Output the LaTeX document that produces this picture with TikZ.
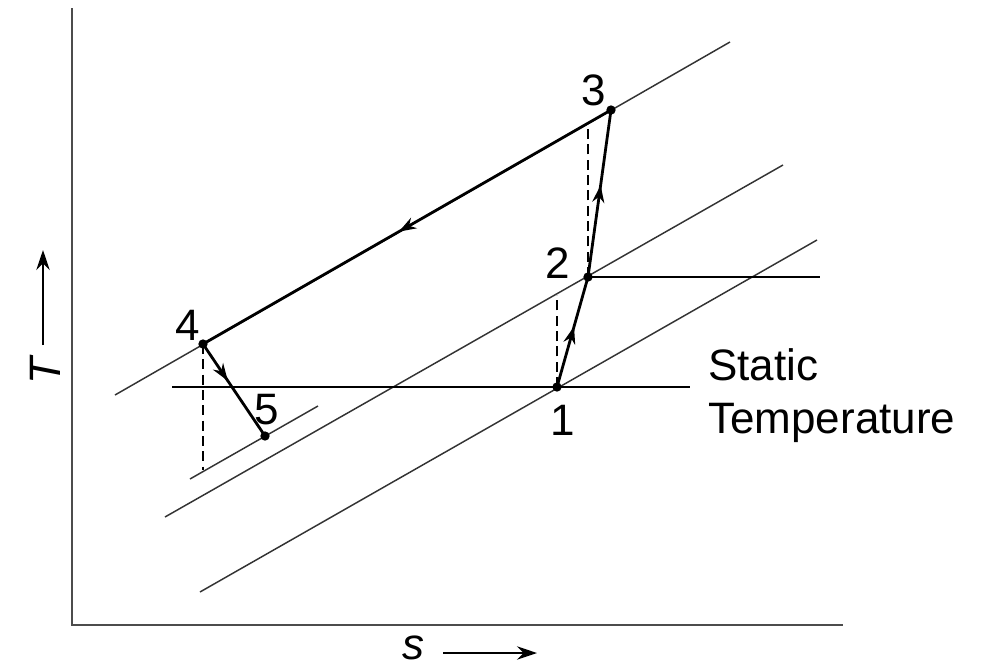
\documentclass[tikz,border=0pt]{standalone}
\usepackage{fontspec}
\setmainfont{Liberation Sans}
\usetikzlibrary{arrows.meta,decorations.markings}
\begin{document}
\begin{tikzpicture}[x=0.75pt,y=-0.75pt,
  axis/.style={line width=2.2pt,black!70},
  isobar/.style={line width=1.1pt,black!80},
  proc/.style={line width=2.1pt,black},
  hline/.style={line width=2pt,black},
  dashline/.style={line width=1.8pt,dash pattern=on 7.5pt off 4pt},
  midarrow/.style={postaction={decorate},decoration={markings,mark=at position #1 with {\arrow{Stealth[length=13pt,width=9pt]}}}},
  lab/.style={font=\fontsize{33}{38}\selectfont,inner sep=0pt}]
\useasboundingbox (0,0) rectangle (989,668);
% axes
\coordinate (O) at (72,625);
\coordinate (Ytop) at (72,8);
\coordinate (Xend) at (843,625);
\draw[axis] (Ytop) -- (O) -- (Xend);
% axis labels
\node[lab,rotate=90] (T) at (45,371) {\itshape T};
\coordinate (Ta) at (43,345); \coordinate (Tb) at (43,250);
\draw[line width=1.8pt,-{Stealth[length=15pt,width=10pt]}] (Ta) -- (Tb);
\node[lab] (s) at (413,648) {\itshape s};
\coordinate (sa) at (443,653); \coordinate (sb) at (537,653);
\draw[line width=1.8pt,-{Stealth[length=15pt,width=10pt]}] (sa) -- (sb);
% state points
\coordinate (p1) at (557,387);
\coordinate (p2) at (588,277);
\coordinate (p3) at (611,110);
\coordinate (p4) at (203,344);
\coordinate (p5) at (265,436);
% isobars
\coordinate (a1) at (115,395); \coordinate (a2) at (730,42);
\coordinate (b1) at (165,517); \coordinate (b2) at (783,165);
\coordinate (c1) at (200,592); \coordinate (c2) at (817,240);
\coordinate (d1) at (190,479); \coordinate (d2) at (318,406);
\draw[isobar] (a1) -- (a2);
\draw[isobar] (b1) -- (b2);
\draw[isobar] (c1) -- (c2);
\draw[isobar] (d1) -- (d2);
% horizontal lines
\coordinate (h1) at (172,387); \coordinate (h2) at (690,387);
\coordinate (h3) at (820,277);
\draw[hline] (h1) -- (h2);
\draw[hline] (p2) -- (h3);
% dashed verticals
\coordinate (e4) at (203,470);
\coordinate (e1) at (557,295);
\coordinate (e2) at (588,123);
\draw[dashline] (p4) -- (e4);
\draw[dashline] (p1) -- (e1);
\draw[dashline] (p2) -- (e2);
% processes
\draw[proc,midarrow=0.55] (p1) -- (p2);
\draw[proc,midarrow=0.55] (p2) -- (p3);
\draw[proc,midarrow=0.52] (p3) -- (p4);
\draw[proc,midarrow=0.4] (p4) -- (p5);
% dots
\foreach \p in {p1,p2,p3,p4,p5} \fill (\p) circle (3.5pt);
% labels
\node[lab] (l1) at (563,420) {1};
\node[lab] (l2) at (558,263) {2};
\node[lab] (l3) at (594,90) {3};
\node[lab] (l4) at (188,325) {4};
\node[lab] (l5) at (267,410) {5};
\node[lab,anchor=west] (st1) at (708,365) {Static};
\node[lab,anchor=west] (st2) at (708,423) {Temperature};
\end{tikzpicture}
\end{document}
